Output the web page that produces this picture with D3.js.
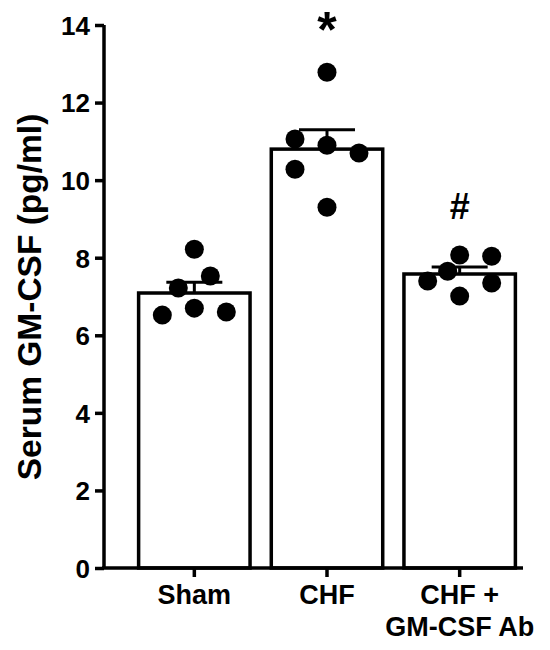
<!DOCTYPE html>
<html>
<head>
<meta charset="utf-8">
<script src="https://cdn.jsdelivr.net/npm/d3@7"></script>
<style>
  body { margin: 0; background: #fff; }
  svg text { font-family: "Liberation Sans", Arial, sans-serif; font-weight: bold; fill: #000; }
</style>
</head>
<body>
<svg id="chart" width="550" height="650"></svg>
<script>
const groups = ["Sham", "CHF", "CHF + GM-CSF Ab"];
const groupLabels = [["Sham"], ["CHF"], ["CHF +", "GM-CSF Ab"]];
const means = [7.09, 10.8, 7.58];
const sems = [0.28, 0.5, 0.18];
const points = [
  [8.22, 7.53, 7.22, 6.70, 6.52, 6.60],
  [12.78, 11.06, 10.9, 10.7, 10.28, 9.3],
  [8.07, 8.04, 7.65, 7.40, 7.35, 7.01]
];
// column index for each dot (scatter spread)
const jitter = [
  [0, 1, -1, 0, -2, 2],
  [0, -2, 0, 2, -2, 0],
  [0, 2, -0.75, -2, 2, 0]
];
const marks = ["", "*", "#"];
const yTicks = [0, 2, 4, 6, 8, 10, 12, 14];

const svg = d3.select("#chart");

const x = d3.scaleBand().domain(groups).range([128, 526]).paddingInner(0.16).paddingOuter(0.08);
const y = d3.scaleLinear().domain([0, 14]).range([568, 25]);

const data = groups.map((g, i) => ({
  name: g, label: groupLabels[i], mean: means[i], sem: sems[i],
  pts: points[i].map((v, j) => ({ v, j: jitter[i][j] })), mark: marks[i]
}));

// bars
svg.append("g")
  .selectAll("rect")
  .data(data)
  .enter()
  .append("rect")
  .attr("x", d => x(d.name))
  .attr("y", d => y(d.mean))
  .attr("width", x.bandwidth())
  .attr("height", d => y(0) - y(d.mean))
  .style("fill", "#fff")
  .style("stroke", "#000")
  .style("stroke-width", 3.5);

// error bars (upper only)
const err = svg.append("g").selectAll("g").data(data).enter().append("g");
err.append("line")
  .attr("x1", d => x(d.name) + x.bandwidth() / 2)
  .attr("x2", d => x(d.name) + x.bandwidth() / 2)
  .attr("y1", d => y(d.mean))
  .attr("y2", d => y(d.mean + d.sem))
  .style("stroke", "#000").style("stroke-width", 3);
err.append("line")
  .attr("x1", d => x(d.name) + x.bandwidth() / 2 - 28)
  .attr("x2", d => x(d.name) + x.bandwidth() / 2 + 28)
  .attr("y1", d => y(d.mean + d.sem))
  .attr("y2", d => y(d.mean + d.sem))
  .style("stroke", "#000").style("stroke-width", 3);

// dots
svg.append("g")
  .selectAll("g")
  .data(data)
  .enter()
  .append("g")
  .selectAll("circle")
  .data(d => d.pts.map(p => ({ name: d.name, v: p.v, j: p.j })))
  .enter()
  .append("circle")
  .attr("cx", d => x(d.name) + x.bandwidth() / 2 + d.j * 16)
  .attr("cy", d => y(d.v))
  .attr("r", 9.5)
  .style("fill", "#000");

// y axis
const yAxis = svg.append("g")
  .attr("transform", "translate(104,0)")
  .call(d3.axisLeft(y).tickValues(yTicks).tickSize(9).tickPadding(5));
yAxis.select(".domain").attr("d", `M0,${y(14)}V${y(0)}`).style("stroke-width", 3.5);
yAxis.selectAll(".tick line").style("stroke-width", 3.5);
yAxis.selectAll(".tick text").style("font-size", "26px").attr("dy", "0.36em");

// x axis
const xAxis = svg.append("g")
  .attr("transform", `translate(0,${y(0)})`)
  .call(d3.axisBottom(x).tickSize(9).tickFormat(""));
xAxis.select(".domain").attr("d", "M102,0H523").style("stroke-width", 3.5);
xAxis.selectAll(".tick line").style("stroke-width", 3.5);

// x labels
svg.append("g")
  .selectAll("text")
  .data(data)
  .enter()
  .append("text")
  .attr("text-anchor", "middle")
  .style("font-size", "27px")
  .selectAll("tspan")
  .data(d => d.label.map(l => ({ name: d.name, l })))
  .enter()
  .append("tspan")
  .attr("x", d => x(d.name) + x.bandwidth() / 2)
  .attr("y", (d, i) => 604 + i * 32)
  .text(d => d.l);

// y label
svg.append("text")
  .attr("transform", "translate(41,297) rotate(-90)")
  .attr("text-anchor", "middle")
  .style("font-size", "33.5px")
  .text("Serum GM-CSF (pg/ml)");

// significance marks
svg.append("g")
  .selectAll("text")
  .data(data.filter(d => d.mark))
  .enter()
  .append("text")
  .attr("x", d => x(d.name) + x.bandwidth() / 2)
  .attr("y", d => d.mark === "*" ? 47 : 219)
  .attr("text-anchor", "middle")
  .style("font-size", d => d.mark === "*" ? "50px" : "36px")
  .text(d => d.mark);
</script>
</body>
</html>
